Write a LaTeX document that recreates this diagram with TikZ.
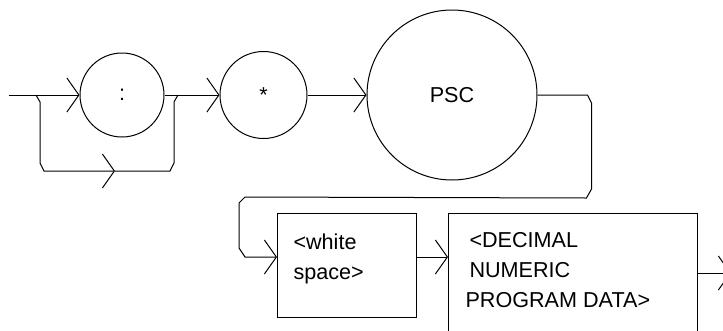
\documentclass[tikz,border=0pt]{standalone}
\usepackage{fontspec}
\setmainfont{Liberation Sans}
\usetikzlibrary{calc,positioning,arrows.meta}

\begin{document}
\begin{tikzpicture}[x=1pt, y=-1pt, line width=1pt,
  font=\fontsize{21.6}{30}\selectfont,
  arr/.style={-{Straight Barb[length=12pt, width=34pt]}},
  token/.style={draw, circle, inner sep=0pt},
  field/.style={draw, rectangle, inner sep=0pt},
  lbl/.style={inner sep=0pt, align=left, anchor=north west}]
  \useasboundingbox (0,0) rectangle (723,330);
  % tokens on the first row
  \node[token, minimum size=84pt] (colon) at (122,95) {:};
  \node[token, minimum size=87pt, right=55pt of colon] (star) {*};
  \node[token, minimum size=170pt, right=59pt of star] (psc) {PSC};
  % fields on the second row
  \node[field, minimum width=139pt, minimum height=104pt, anchor=north west] (ws) at (277,213) {};
  \node[field, minimum width=249pt, minimum height=150pt, anchor=north west] (dnpd) at (448,213) {};
  \node[lbl] (wstext) at ($(ws.north west)+(16,20)$) {<white\\space>};
  \node[lbl] (dnpdtext) at ($(dnpd.north west)+(17,19)$)
    {\hspace*{4pt}<DECIMAL\\\hspace*{4pt}NUMERIC\\PROGRAM DATA>};
  \coordinate (start) at (9,95);
  \coordinate (split) at (36,95);
  \coordinate (skip) at (115,171);
  \coordinate (wsin) at ($(ws.north west)+(0,44)$);
  \coordinate (dnpdin) at ($(dnpd.north west)+(0,44)$);
  \coordinate (dnpdout) at ($(dnpd.north east)+(0,60)$);
  % optional colon
  \draw[arr] (start) -- (colon.west);
  \draw[arr] (split) -- ++(4,7) -- ++(0,61) -- ++(4,8) -- (skip);
  \draw (skip) -- ++(55,0) -- ++(4,-8) -- ++(0,-61) -- ++(4,-7);
  \draw[arr] (colon.east) -- (star.west);
  \draw[arr] (star.east) -- (psc.west);
  % wrap to the second row
  \draw[arr] (psc.east) -- ++(50,0) -- ++(4,8) -- ++(0,86) -- ++(-5,9)
    -- ($(wsin)+(-32,-60)$) -- ++(-6,6) -- ++(0,45) -- ++(6,9) -- (wsin);
  \draw[arr] (wsin -| ws.east) -- (dnpdin);
  \draw[arr] (dnpdout) -- ++(33,0);
\end{tikzpicture}
\end{document}
